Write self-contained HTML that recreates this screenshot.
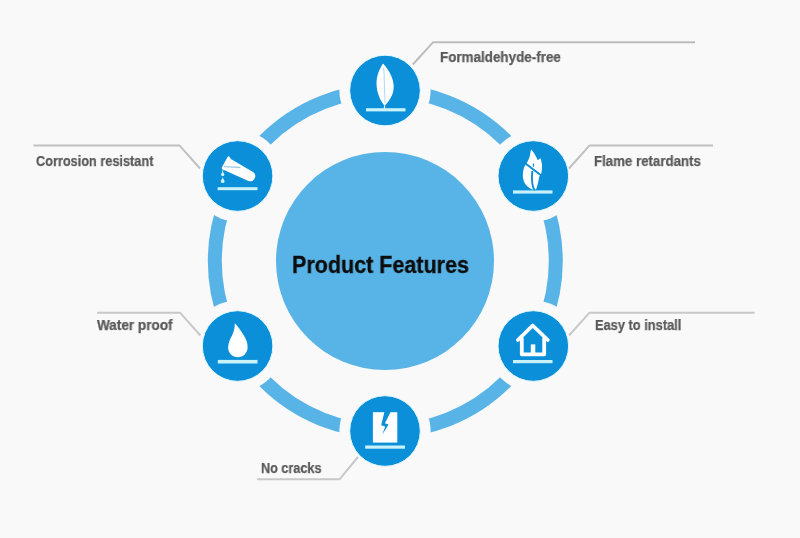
<!DOCTYPE html>
<html><head><meta charset="utf-8">
<style>
html,body{margin:0;padding:0;}
body{width:800px;height:538px;background:#f9f9f9;position:relative;overflow:hidden;font-family:"Liberation Sans",sans-serif;}
svg{position:absolute;left:0;top:0;}
.lb{position:absolute;will-change:transform;font-weight:bold;font-size:14.2px;color:#595959;-webkit-text-stroke:0.25px #595959;white-space:nowrap;line-height:16px;transform-origin:0 0;}
.title{position:absolute;will-change:transform;font-weight:bold;font-size:23.5px;color:#0d0d0d;-webkit-text-stroke:0.3px #0d0d0d;white-space:nowrap;line-height:24px;transform-origin:0 0;}
</style></head>
<body>
<svg width="800" height="538" viewBox="0 0 800 538">
  <circle cx="385.3" cy="261" r="170.5" fill="none" stroke="#58b4e6" stroke-width="14"/>
  <circle cx="385" cy="261" r="109" fill="#58b4e6"/>
  <g fill="#f9f9f9">
    <circle cx="385" cy="90.5" r="45.6"/>
    <circle cx="533.3" cy="176" r="45.6"/>
    <circle cx="533.3" cy="346" r="45.6"/>
    <circle cx="385" cy="431" r="45.6"/>
    <circle cx="237.6" cy="346" r="45.6"/>
    <circle cx="237.6" cy="176" r="45.6"/>
  </g>
  <g fill="none" stroke-width="2">
    <polyline stroke="#bcbcbc" points="412.8,64.5 433.2,42.2 695,42.2"/>
    <polyline stroke="#c0c0c0" points="569,168.5 589.5,145.4 713,145.4"/>
    <polyline stroke="#c8c8c8" points="569,335.5 589.5,312.7 754.5,312.7"/>
    <polyline stroke="#c8c8c8" points="358,457 339.5,479.3 257,479.3"/>
    <polyline stroke="#c8c8c8" points="200.4,335.5 180,312.7 97,312.7"/>
    <polyline stroke="#c0c0c0" points="200,168.5 179.5,145.4 33.5,145.4"/>
  </g>
  <g fill="#0a8fd8" stroke="#e4f7fe" stroke-width="1">
    <circle cx="385" cy="90.5" r="35.3"/>
    <circle cx="533.3" cy="176" r="35.3"/>
    <circle cx="533.3" cy="346" r="35.3"/>
    <circle cx="385" cy="431" r="35.3"/>
    <circle cx="237.6" cy="346" r="35.3"/>
    <circle cx="237.6" cy="176" r="35.3"/>
  </g>
  <!-- base lines -->
  <g fill="#c9f3fc">
    <rect x="366" y="108.2" width="39.5" height="3.2"/>
    <rect x="513" y="190.4" width="39.5" height="3.2"/>
    <rect x="513" y="360" width="39.5" height="3.2"/>
    <rect x="365.2" y="445.5" width="39.8" height="3.2"/>
    <rect x="217.8" y="359.9" width="39.7" height="3.6"/>
    <rect x="217.6" y="187.2" width="39.9" height="3"/>
  </g>
  <!-- leaf -->
  <path d="M383.1,63.6 C390.2,71.5 393.8,80 393.7,87 C393.5,95 389.3,101 384.5,105.8 C379.8,100 376.5,92 376.5,83 C376.5,76 379.4,69 383.1,63.6 Z" fill="#fff"/>
  <path d="M384.5,105.5 L384.5,108.5" stroke="#fff" stroke-width="1.2"/>
  <path d="M383.6,68 C384.6,76 384,84 384.6,90 C385,96 384.8,100 385,103" fill="none" stroke="#9fd3f0" stroke-width="0.9"/>
  <!-- flame -->
  <path d="M531.3,149.5 C532.6,151 535.2,154.5 537.8,160.2 L540.3,158.3 C542.1,161.5 542.6,168 541.3,173.5 L540.7,174.6 L539,177.2 C538.6,181 537.6,185.5 536.2,188.9 L534.3,190.2 C531,189.6 526.4,186.6 524.2,182 C522.4,178 522.4,172 524.4,166.8 L527.2,162.2 C529.1,159 530.1,156 530.4,152.5 C530.6,151 530.9,150.1 531.3,149.5 Z" fill="#fff"/>
  <path d="M524.8,162.9 C529,166 535,170.8 541.5,175.6" fill="none" stroke="#0a8fd8" stroke-width="1.9"/>
  <path d="M533.4,163.5 L533.5,166.8" fill="none" stroke="#0a8fd8" stroke-width="1.2"/>
  <path d="M532.3,170.8 C531.8,176 531.8,182 532.8,186 C533.3,188 534,189.5 534.8,190.5" fill="none" stroke="#0a8fd8" stroke-width="1.9"/>
  <!-- test tube -->
  <path d="M228.9,156.3 C229.6,157 230.2,158 230.9,158.9 L253.0,172.1 A5,5 0 0 1 248.4,180.9 L222.8,169.6 C221.8,169.1 221.5,168.2 221.9,167.3 L227.6,157 C228,156.4 228.5,156.1 228.9,156.3 Z" fill="#fff"/>
  <path d="M224,166.6 L240.5,167.5" stroke="#9fcde9" stroke-width="1.3"/>
  <path d="M222.9,169.5 L222.7,171.8" stroke="#a8e2f8" stroke-width="1.1"/>
  <path d="M222.7,171.2 C223.3,172.4 224.4,173.5 224.4,174.5 A1.7,1.7 0 0 1 221,174.5 C221,173.5 222.1,172.4 222.7,171.2 Z" fill="#cdf1ff"/>
  <path d="M222.7,177.4 C223.3,178.8 224.6,180.2 224.6,181.2 A1.9,1.9 0 0 1 220.8,181.2 C220.8,180.2 222.1,178.8 222.7,177.4 Z" fill="#cdf1ff"/>
  <!-- water drop -->
  <path d="M234.7,323.2 C238.5,327 244.5,335 246.8,341.5 C247.4,343.5 247.6,345.5 247.6,347.5 C247.6,353 243,357.3 237.8,357.3 C232.5,357.3 228.1,353 228.1,347.5 C228.1,343 230.5,338.5 232.5,334.5 C234,331 235,327 234.7,323.2 Z" fill="#fff"/>
  <!-- house -->
  <g fill="none" stroke="#fff" stroke-width="3.8" stroke-linecap="round" stroke-linejoin="round">
    <path d="M517.9,340 L532.7,325.5 L547.8,340"/>
    <path d="M521.8,338.5 L521.8,354.3 L544.2,354.3 L544.2,338.5"/>
  </g>
  <rect x="530.8" y="344.4" width="4.5" height="10" fill="#fff"/>
  <!-- crack -->
  <rect x="372.9" y="412.2" width="24.4" height="30.4" fill="#fff"/>
  <path d="M384.4,412 L390.6,412 L384.9,423.3 L388.6,424.6 L382.3,434.6 L385.2,426.4 L381.2,425.2 Z" fill="#0a8fd8"/>
</svg>
<div class="lb" id="l1" style="left:439.57px;top:49.2px;transform:scaleX(0.9460)">Formaldehyde-free</div>
<div class="lb" id="l2" style="left:594.07px;top:153.2px;transform:scaleX(0.9345)">Flame retardants</div>
<div class="lb" id="l3" style="left:36.24px;top:153.2px;transform:scaleX(0.8969)">Corrosion resistant</div>
<div class="lb" id="l4" style="left:97.38px;top:317.2px;transform:scaleX(0.9557)">Water proof</div>
<div class="lb" id="l5" style="left:595.10px;top:317.2px;transform:scaleX(0.9043)">Easy to install</div>
<div class="lb" id="l6" style="left:261.11px;top:460.2px;transform:scaleX(0.8909)">No cracks</div>
<div class="title" id="tt" style="left:292.13px;top:252.8px;transform:scaleX(0.9152)">Product Features</div>
</body></html>
